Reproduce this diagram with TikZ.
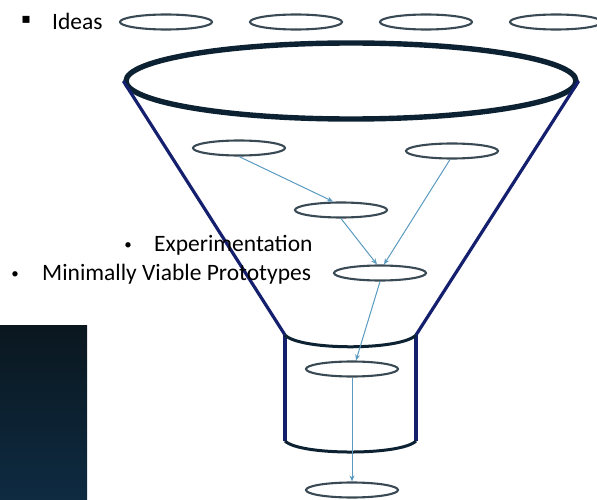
\documentclass[tikz,border=0pt]{standalone}
\usepackage{fontspec}
\setmainfont{Carlito}
\newfontfamily\symfont{DejaVu Sans}
\usetikzlibrary{shapes.geometric,arrows.meta}
\definecolor{ringcol}{HTML}{3A4A55}
\definecolor{flowcol}{HTML}{5A9AC0}
\definecolor{navy}{HTML}{14206E}
\definecolor{rimcol}{HTML}{0C2232}
\definecolor{panetop}{HTML}{0A171F}
\definecolor{panebot}{HTML}{0E2B42}
\tikzset{
  idea/.style={draw=ringcol, line width=2.1pt, ellipse, minimum width=92pt, minimum height=15pt, inner sep=0pt},
  flow/.style={draw=flowcol, line width=1pt, -{Stealth[length=6pt,width=5pt]}},
  side/.style={draw=navy, line width=3.2pt},
  rim/.style={draw=rimcol, line width=3pt},
  label/.style={font=\fontsize{23.5}{27}\selectfont, inner sep=0pt, anchor=west},
  dot/.style={font=\fontsize{15}{17}\selectfont, inner sep=0pt},
}
\begin{document}
\begin{tikzpicture}[x=1pt,y=-1pt]
\useasboundingbox (0,0) rectangle (597,500);

% dark panel at lower left
\shade[top color=panetop, bottom color=panebot] (0,325) rectangle (87,500);

% ideas waiting above the funnel
\node[idea] (i1) at (166,22) {};
\node[idea] (i2) at (296,22) {};
\node[idea] (i3) at (426,22) {};
\node[idea] (i4) at (556,22) {};

% funnel mouth
\node[draw=rimcol, line width=5.4pt, ellipse, minimum width=450pt, minimum height=76pt, inner sep=0pt] (mouth) at (351,81) {};

% funnel sides and neck
\coordinate (nl) at (285,335);
\coordinate (nr) at (416,335);
\coordinate (bl) at (285,441);
\coordinate (br) at (416,441);
\draw[side] (mouth.west) -- (nl);
\draw[side] (mouth.east) -- (nr);
\draw[side] (nl) -- (bl);
\draw[side] (nr) -- (br);
\draw[rim] (nl) .. controls (300,350.7) and (401,350.7) .. (nr);
\draw[rim] (bl) .. controls (300,455.7) and (401,455.7) .. (br);

% ideas inside the funnel
\node[idea] (a) at (239,148) {};
\node[idea] (b) at (452,151) {};
\node[idea] (c) at (341,210) {};
\node[idea] (d) at (380,273) {};
\node[idea] (e) at (352,369) {};
\node[idea] (f) at (352,490) {};

% flow between ideas
\draw[flow] (a.south) -- ([xshift=-8pt]c.north);
\draw[flow] ([xshift=-2pt]b.south) -- ([xshift=4pt]d.north);
\draw[flow] (c.south) -- ([xshift=-3pt]d.north);
\draw[flow] (d.south) -- ([xshift=4pt]e.north);
\draw[flow] (e.south) -- (f.north);

% labels
\node[inner sep=0pt, font=\symfont\fontsize{14}{16}\selectfont] (sq) at (26,20) {▪};
\node[label] (ideas) at (52,21) {Ideas};
\node[dot] (b1) at (128,246) {•};
\node[label] (exp) at (154,245) {Experimentation};
\node[dot] (b2) at (15,275) {•};
\node[label] (mvp) at (42,274) {Minimally Viable Prototypes};
\end{tikzpicture}
\end{document}
